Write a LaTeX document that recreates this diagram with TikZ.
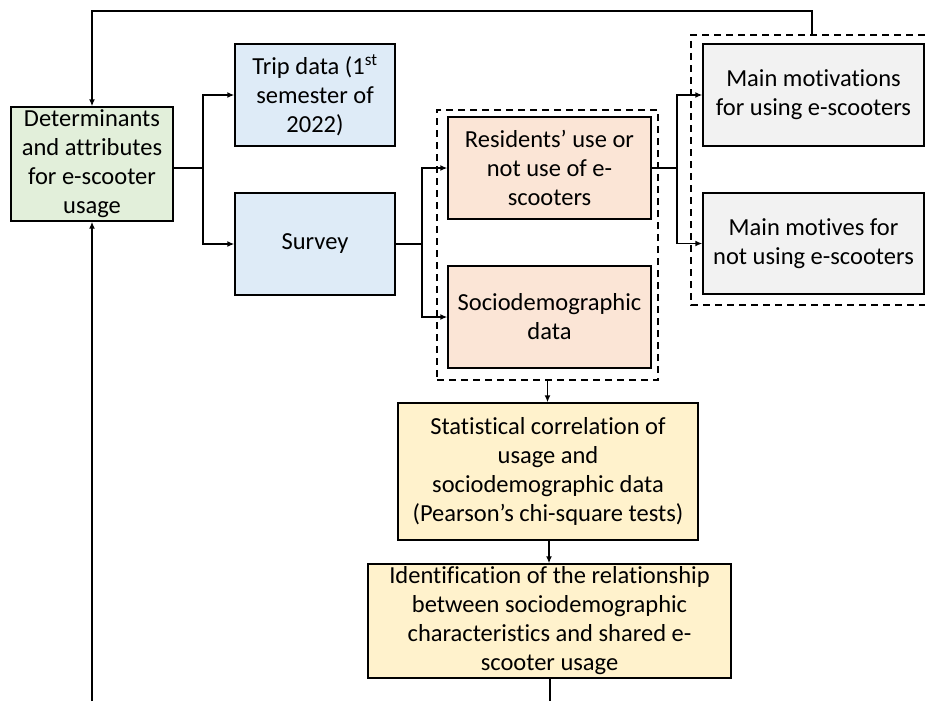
\documentclass[tikz,border=0pt]{standalone}
\usepackage{fontspec}
\setmainfont{Carlito}[Ligatures={NoCommon}]
\usetikzlibrary{arrows.meta}
\definecolor{cgreen}{HTML}{E2EFDA}
\definecolor{cblue}{HTML}{DEEBF7}
\definecolor{corange}{HTML}{FBE5D6}
\definecolor{cgray}{HTML}{F2F2F2}
\definecolor{cyellow}{HTML}{FFF2CC}
\tikzset{
  box/.style={draw=black, line width=1.4pt, align=center, inner sep=0pt,
    font=\fontsize{24.5}{29}\selectfont},
  grp/.style={draw=black, line width=1.3pt, dash pattern=on 7pt off 5pt},
  conn/.style={line width=1.4pt},
  arr/.style={line width=1.4pt, -{Latex[length=7pt,width=6pt]}}
}
\begin{document}
\begin{tikzpicture}[x=1pt,y=-1pt]
\useasboundingbox (0,0) rectangle (925,701);
% groups
\node[grp, minimum width=221pt, minimum height=270pt] (g1) at (547.5,245) {};
\draw[grp] (925,35) -- (691,35) -- (691,305) -- (925,305);
\coordinate (g2top) at (812,35);
% boxes
\node[box, fill=cgreen, minimum width=162pt, minimum height=114pt] (det) at (92,164) {Determinants\\and attributes\\for e-scooter\\usage};
\node[box, fill=cblue, minimum width=160pt, minimum height=102pt] (trip) at (315,95) {Trip data (1\textsuperscript{st}\\semester of\\2022)};
\node[box, fill=cblue, minimum width=160pt, minimum height=102pt] (survey) at (315,244) {Survey};
\node[box, fill=corange, minimum width=203pt, minimum height=102pt] (res) at (549.5,168) {Residents’ use or\\not use of e-\\scooters};
\node[box, fill=corange, minimum width=203pt, minimum height=102pt] (soc) at (549.5,317) {Sociodemographic\\data};
\node[box, fill=cgray, minimum width=221pt, minimum height=102pt] (mot) at (813.5,95) {Main motivations\\for using e-scooters};
\node[box, fill=cgray, minimum width=221pt, minimum height=101pt] (mov) at (813.5,243.5) {Main motives for\\not using e-scooters};
\node[box, fill=cyellow, minimum width=300pt, minimum height=137pt] (stat) at (548,471.5) {Statistical correlation of\\usage and\\sociodemographic data\\(Pearson’s chi-square tests)};
\node[box, fill=cyellow, minimum width=363pt, minimum height=114pt] (ident) at (549.5,621) {Identification of the relationship\\between sociodemographic\\characteristics and shared e-\\scooter usage};
% connectors
\coordinate (j1) at (203,168);
\coordinate (j2) at (422,244);
\coordinate (j3) at (677,168);
\coordinate (bl) at (92,701);
\coordinate (br) at (550,701);
\draw[conn] (det.east |- j1) -- (j1);
\draw[arr] (j1) |- (trip.west);
\draw[arr] (j1) |- (survey.west);
\draw[conn] (survey.east) -- (j2);
\draw[arr] (j2) |- (res.west);
\draw[arr] (j2) |- (soc.west);
\draw[conn] (res.east) -- (j3);
\draw[arr] (j3) |- (mot.west);
\draw[arr] (j3) |- (mov.west);
\draw[arr] (g2top) -- (812,11) -| (det.north);
\draw[arr] (bl) -- (det.south);
\draw[arr] (g1.south) -- (g1.south |- stat.north);
\draw[arr] (stat.south -| 549,0) -- (ident.north -| 549,0);
\draw[conn] (ident.south -| br) -- (br);
\end{tikzpicture}
\end{document}
